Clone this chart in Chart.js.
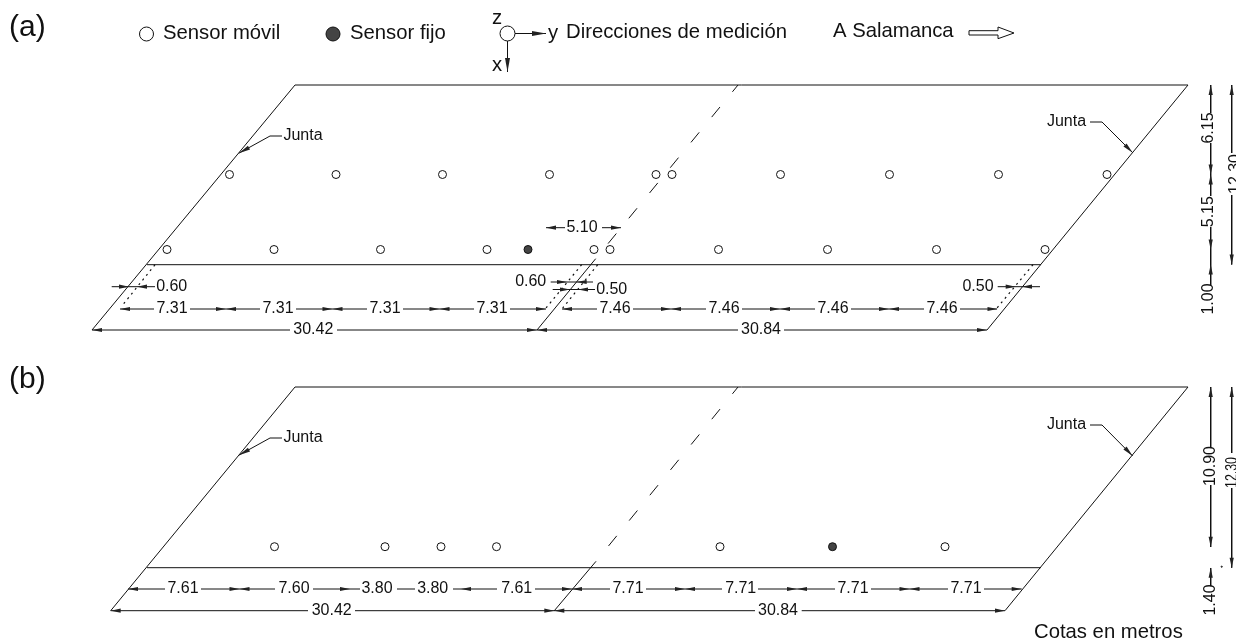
<!DOCTYPE html>
<html>
<head>
<meta charset="utf-8">
<style>
  html, body { margin: 0; padding: 0; background: #fff; }
  #wrap { width: 1236px; height: 642px; }
</style>
<script src="https://cdn.jsdelivr.net/npm/chart.js@4/dist/chart.umd.min.js"></script>
</head>
<body>
<div id="wrap"><canvas id="planta"></canvas></div>
<script>
// everything below is in drawing units

// sensors, panel (a)
var movilRowA1X = [229.5, 336, 442.5, 549.5, 656, 672, 780.5, 889.5, 998.5, 1107];
var movilRowA1Y = 174.5;
var movilRowA2X = [167, 274, 380.5, 487, 594, 610, 718.5, 827.5, 936.5, 1045];
var movilRowA2Y = 249.5;
var fijoA = [528, 249.5];

// sensors, panel (b)
var movilRowBX = [274.5, 385, 441, 496.5, 720, 945];
var movilRowBY = 546.7;
var fijoB = [832.5, 546.7];

// legend symbols
var legendMovil = [146.5, 34];
var legendFijo = [333, 34];
var legendAxes = [507.5, 33.5];
var strayDot = [1221.7, 566.7];

// deck outlines [x1, y1, x2, y2]
var deckLines = [
  [92, 330, 295, 85], [295, 85, 1188, 85], [1188, 85, 987, 330],
  [147, 264.7, 1041, 264.7], [537, 330, 595.7, 258.7],
  [110.7, 610.7, 295, 387], [295, 387, 1188, 387], [1188, 387, 1005, 610.7],
  [147, 567.7, 1041, 567.7], [554.3, 610.7, 595.7, 561.7]
];
// dashed centre joint, one line per panel
var jointDashA = [[738, 85], [595.7, 258.7]];
var jointDashB = [[738, 387], [595.7, 561.7]];
var dottedLines = [
  [155, 264.7, 122.7, 305], [581.7, 264.7, 546, 308],
  [597.7, 264.7, 562.7, 308], [1033, 264.7, 997, 308]
];

// dimension lines, horizontal [x1, x2, y]
var dimSpansH = [
  [120, 154, 309], [190, 260, 309], [296, 367, 309], [403, 474, 309], [510, 546, 309],
  [562, 597, 309], [633, 706, 309], [742, 815, 309], [851, 924, 309], [960, 997, 309],
  [92, 290, 330], [337, 738, 330], [784, 987, 330],
  [128, 165, 589], [201, 275, 589], [313, 360, 589], [397, 415, 589], [453, 497, 589],
  [535, 610, 589], [646, 722, 589], [758, 835, 589], [871, 948, 589], [984, 1021.7, 589],
  [110.7, 308, 610.7], [355, 755, 610.7], [801.7, 1005, 610.7],
  [111.7, 155, 286.7], [550.7, 593, 282], [552.7, 595, 289.5], [997.7, 1040, 286.7],
  [546, 565, 227.7], [602, 621, 227.7]
];
// dimension lines, vertical [y1, y2, x]
var dimSpansV = [
  [85, 113, 1210.7], [143, 196, 1210.7], [227, 285, 1210.7],
  [85, 153, 1231.7], [195, 264.5, 1231.7],
  [387, 447, 1210.7], [485, 547, 1210.7], [568, 586, 1210.7],
  [387, 453, 1231.7], [488, 567.7, 1231.7]
];

// Junta leaders, [x1, y1, x2, y2]
var leaderLines = [
  [282, 136, 270, 136], [270, 136, 238.7, 153.3],
  [1090, 122, 1102, 122], [1102, 122, 1132.7, 152.7],
  [282, 438, 270, 438], [270, 438, 238.7, 455.3],
  [1090, 425, 1102, 425], [1102, 425, 1132.7, 456]
];
var legendLines = [[515, 33.5, 546, 33.5], [507.5, 41, 507.5, 72]];
var bigArrow = [[969, 30.7], [998, 30.7], [998, 27], [1014, 33], [998, 38.7], [998, 35], [969, 35], [969, 30.7]];

// arrow tips, sorted by which way they point
var tipsLeft = [[120, 309], [226, 309], [332.5, 309], [439.5, 309], [562, 309], [671, 309], [780, 309], [889, 309],
  [92, 330], [537, 330], [128, 589], [239.5, 589], [461, 589], [572, 589], [685, 589], [797, 589], [909.5, 589],
  [110.7, 610.7], [554.3, 610.7], [137, 286.7], [576.7, 282], [578, 289.5], [1022, 286.7], [546, 227.7]];
var tipsRight = [[226, 309], [332.5, 309], [439.5, 309], [546, 309], [671, 309], [780, 309], [889, 309], [997.5, 309],
  [537, 330], [987, 330], [239.5, 589], [350, 589], [572, 589], [685, 589], [797, 589], [909.5, 589], [1021.7, 589],
  [554.3, 610.7], [1005, 610.7], [129, 286.7], [567, 282], [570, 289.5], [1015.7, 286.7], [621, 227.7]];
var tipsUp = [[1210.7, 85], [1210.7, 174.5], [1210.7, 264.5], [1231.7, 85], [1210.7, 387], [1210.7, 567.7], [1231.7, 387]];
var tipsDown = [[1210.7, 174.5], [1210.7, 249.5], [1231.7, 264.5], [1210.7, 546.7], [1231.7, 567.7]];
// leader arrows and legend axes [tipX, tipY, tailX, tailY]
var tipsLeader = [[238.7, 153.3, 249, 147.6], [1132.7, 152.7, 1125, 145], [238.7, 455.3, 249, 449.6], [1132.7, 456, 1125, 448]];
var tipsLegend = [[546, 33.5, 532, 33.5], [507.5, 72, 507.5, 58]];

// text [label, x, y]
var dimLabels = [
  ['7.31', 172, 309], ['7.31', 278, 309], ['7.31', 385, 309], ['7.31', 492, 309],
  ['7.46', 615, 309], ['7.46', 724, 309], ['7.46', 833, 309], ['7.46', 942, 309],
  ['30.42', 313.3, 330], ['30.84', 761, 330], ['0.60', 171.7, 286.7], ['0.60', 530.7, 282],
  ['0.50', 611.7, 289.5], ['0.50', 978, 286.7], ['5.10', 582, 227.7],
  ['7.61', 183, 589], ['7.60', 294, 589], ['3.80', 377, 589], ['3.80', 432.7, 589], ['7.61', 516.7, 589],
  ['7.71', 628, 589], ['7.71', 740.7, 589], ['7.71', 853, 589], ['7.71', 966, 589],
  ['30.42', 331.7, 610.7], ['30.84', 778, 610.7],
  ['Junta', 303, 136], ['Junta', 1066.5, 122], ['Junta', 303, 438], ['Junta', 1066.5, 425]
];
var sideLabels = [
  ['6.15', 1209, 128], ['5.15', 1209, 211.7], ['1.00', 1209, 299], ['12.30', 1236, 174],
  ['10.90', 1210.5, 466], ['1.40', 1210.5, 600]
];
// this one is squeezed in the figure
var sideLabelNarrow = ['12.30', 1233, 472.5];
var legendLabels = [
  ['Sensor móvil', 163, 33], ['Sensor fijo', 350, 33], ['z', 492, 18], ['y', 548, 33],
  ['x', 492, 65], ['Direcciones de medición', 566, 32], ['A Salamanca', 833, 31], ['Cotas en metros', 1034, 632]
];
var panelLabels = [['(a)', 9, 28], ['(b)', 9, 380]];

var FONT = '"Liberation Sans", Arial, sans-serif';

function segments(list) {
  var pts = [];
  list.forEach(function (s) {
    pts.push({x: s[0], y: s[1]}, {x: s[2], y: s[3]}, {x: NaN, y: NaN});
  });
  return pts;
}
function toPoints(list) {
  return list.map(function (p) { return {x: p[0], y: p[1]}; });
}
function rowPoints(xs, y) {
  return xs.map(function (x) { return {x: x, y: y}; });
}
function lineSet(data, extra) {
  return Object.assign({
    data: data, showLine: true, pointRadius: 0, borderColor: '#111', borderWidth: 1, spanGaps: false, tension: 0
  }, extra || {});
}
function pointSet(data, radius, fill) {
  return {
    data: data, showLine: false, pointRadius: radius, pointHoverRadius: radius,
    pointBackgroundColor: fill, pointBorderColor: '#111', pointBorderWidth: 1
  };
}

var horizontal = dimSpansH.map(function (s) { return [s[0], s[2], s[1], s[2]]; });
var vertical = dimSpansV.map(function (s) { return [s[2], s[0], s[2], s[1]]; });

// arrowheads and text have no dataset type of their own
var dibujoPlugin = {
  id: 'dibujo',
  afterDatasetsDraw: function (chart) {
    var ctx = chart.ctx, sx = chart.scales.x, sy = chart.scales.y;
    function head(tx, ty, bx, by, halfW) {
      var x0 = sx.getPixelForValue(tx), y0 = sy.getPixelForValue(ty);
      var x1 = sx.getPixelForValue(bx), y1 = sy.getPixelForValue(by);
      var len = Math.hypot(x1 - x0, y1 - y0), nx = -(y1 - y0) / len * halfW, ny = (x1 - x0) / len * halfW;
      ctx.beginPath();
      ctx.moveTo(x0, y0);
      ctx.lineTo(x1 + nx, y1 + ny);
      ctx.lineTo(x1 - nx, y1 - ny);
      ctx.closePath();
      ctx.fill();
    }
    function text(list, font, rotated, maxW) {
      ctx.font = font;
      list.forEach(function (l) {
        var x = sx.getPixelForValue(l[1]), y = sy.getPixelForValue(l[2]);
        ctx.save();
        ctx.translate(x, y);
        if (rotated) ctx.rotate(-Math.PI / 2);
        if (maxW) ctx.fillText(l[0], 0, 0, maxW);
        else ctx.fillText(l[0], 0, 0);
        ctx.restore();
      });
    }
    ctx.save();
    ctx.fillStyle = '#222';
    tipsLeft.forEach(function (t) { head(t[0], t[1], t[0] + 10, t[1], 2.1); });
    tipsRight.forEach(function (t) { head(t[0], t[1], t[0] - 10, t[1], 2.1); });
    tipsUp.forEach(function (t) { head(t[0], t[1], t[0], t[1] + 10, 2.1); });
    tipsDown.forEach(function (t) { head(t[0], t[1], t[0], t[1] - 10, 2.1); });
    tipsLeader.forEach(function (t) { head(t[0], t[1], t[2], t[3], 2.2); });
    tipsLegend.forEach(function (t) { head(t[0], t[1], t[2], t[3], 2.5); });

    ctx.fillStyle = '#111';
    ctx.textBaseline = 'middle';
    ctx.textAlign = 'center';
    text(dimLabels, '16px ' + FONT, false);
    text(sideLabels, '16px ' + FONT, true);
    text([sideLabelNarrow], '16px ' + FONT, true, 31);
    ctx.textAlign = 'left';
    text(legendLabels, '20.3px ' + FONT, false);
    text(panelLabels, '30px ' + FONT, false);
    ctx.restore();
  }
};

new Chart(document.getElementById('planta'), {
  type: 'scatter',
  data: {
    // chart.js paints the first dataset last, so the circles go first
    datasets: [
      pointSet(rowPoints(movilRowA1X, movilRowA1Y), 4, '#fff'),
      pointSet(rowPoints(movilRowA2X, movilRowA2Y), 4, '#fff'),
      pointSet(rowPoints(movilRowBX, movilRowBY), 4, '#fff'),
      pointSet(toPoints([fijoA, fijoB]), 4, '#444'),
      pointSet(toPoints([legendMovil]), 7, '#fff'),
      pointSet(toPoints([legendFijo]), 7, '#444'),
      pointSet(toPoints([legendAxes]), 7.5, '#fff'),
      pointSet(toPoints([strayDot]), 0.6, '#888'),
      lineSet(segments(deckLines)),
      lineSet(toPoints(jointDashA), {borderDash: [13, 19.7], borderDashOffset: 4.2}),
      lineSet(toPoints(jointDashB), {borderDash: [13, 19.7], borderDashOffset: 4.2}),
      lineSet(segments(dottedLines), {borderDash: [2, 4], borderWidth: 1.2}),
      lineSet(segments(horizontal)),
      lineSet(segments(vertical)),
      lineSet(segments(leaderLines)),
      lineSet(segments(legendLines)),
      lineSet(toPoints(bigArrow))
    ]
  },
  options: {
    responsive: true,
    maintainAspectRatio: false,
    animation: false,
    layout: {padding: 0, autoPadding: false},
    plugins: {legend: {display: false}, tooltip: {enabled: false}},
    scales: {
      x: {type: 'linear', min: 0, max: 1236, display: false},
      y: {type: 'linear', min: 0, max: 642, reverse: true, display: false}
    }
  },
  plugins: [dibujoPlugin]
});
</script>
</body>
</html>
